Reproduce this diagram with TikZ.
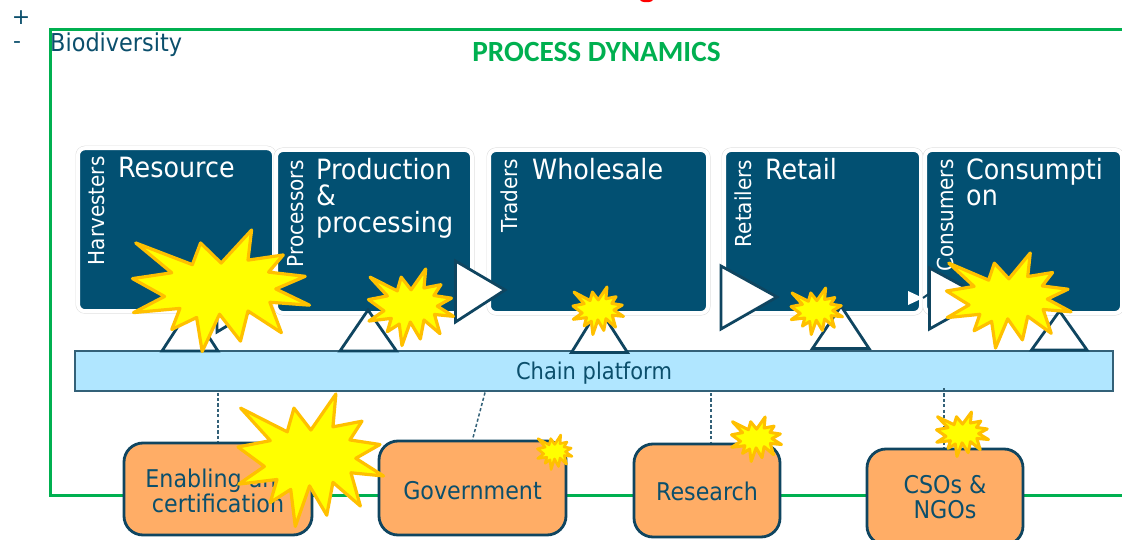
\documentclass[tikz,border=0pt]{standalone}
\usepackage{graphicx}
\usepackage{fontspec}
\setmainfont{DejaVu Sans}
\newfontfamily\calib{Carlito}
\definecolor{boxteal}{HTML}{025072}
\definecolor{inkteal}{HTML}{0B4F6C}
\definecolor{edgeteal}{HTML}{0F4560}
\definecolor{platblue}{HTML}{B0E6FF}
\definecolor{orangebox}{HTML}{FFAD66}
\definecolor{framegreen}{HTML}{00B050}
\definecolor{burstedge}{HTML}{FFC000}
\definecolor{burstfill}{HTML}{FFFF00}
\newcommand\vs[1]{\scalebox{1}[1.1]{#1}}
\tikzset{
  stagebox/.style={preaction={draw=black!13,line width=5pt},fill=boxteal,draw=white,line width=4pt,rounded corners=7pt,inner sep=0pt},
  stagetitle/.style={anchor=north west,inner sep=0pt,text=white,align=left,font=\fontsize{25.4}{26.5}\selectfont},
  actor/.style={anchor=west,rotate=90,inner sep=0pt,text=white,font=\fontsize{20}{22}\selectfont},
  platform/.style={fill=platblue,draw=edgeteal!85,line width=1.4pt,inner sep=0pt},
  support/.style={fill=orangebox,draw=edgeteal,line width=2.8pt,rounded corners=19pt,inner sep=0pt,text=inkteal,align=center,font=\fontsize{22.2}{25}\selectfont},
  flowtri/.style={fill=white,draw=edgeteal,line width=2.8pt,line join=miter},
  dashlink/.style={draw=edgeteal!85,line width=1.5pt,dash pattern=on 3.2pt off 2.2pt},
  burst/.style={fill=burstfill,draw=burstedge,line join=round},
}
\newcommand\burstat[5]{%
  \begin{scope}[shift={(#1,#2)},xscale={(#3-#1)/541},yscale={(#4-#2)/375},shift={(-32,-25)}]
  \path[burst,line width=#5] (42,65)--(215,132)--(240,65)--(303,127)--(396,25)--(385,118)--(493,102)--(448,155)--(560,168)--(470,207)--(573,257)--(452,248)--(487,342)--(385,275)--(362,368)--(298,285)--(245,400)--(228,295)--(152,332)--(177,267)--(35,280)--(130,230)--(32,175)--(152,157)--cycle;
  \end{scope}}
\begin{document}
\begin{tikzpicture}[x=1pt,y=-1pt]
\useasboundingbox (0,0) rectangle (1122,540);
\fill[white] (0,0) rectangle (1122,540);
% clipped red remainder at the top
\fill[red] (646.5,0) ellipse (6.5pt and 2.2pt);
% frame
\coordinate (ftr) at (1122,30);
\coordinate (ftl) at (50,30);
\coordinate (fbl) at (50,495);
\coordinate (fbr) at (1122,495);
\draw[framegreen,line width=3pt] (ftr) -- (ftl) -- (fbl) -- (fbr);
\node[anchor=center,text=inkteal,font=\fontsize{22}{24}\selectfont] (plus) at (21,18) {+};
\node[anchor=center,text=inkteal,font=\fontsize{22}{24}\selectfont] (minus) at (17,45) {-};
\node[anchor=base west,inner sep=0pt,text=inkteal,font=\fontsize{22.4}{24}\selectfont] (bio) at (50,52) {\vs{Biodiversity}};
\node[anchor=center,inner sep=0pt,text=framegreen,font=\calib\bfseries\fontsize{29.3}{31}\selectfont] (title) at (596.5,52) {PROCESS DYNAMICS};
% stages
\node[stagebox,minimum width=196pt,minimum height=163pt] (s1) at (176,229.7) {};
\node[stagebox,minimum width=196pt,minimum height=163pt] (s2) at (374,231.5) {};
\node[stagebox,minimum width=219pt,minimum height=163pt] (s3) at (598.5,231.5) {};
\node[stagebox,minimum width=197pt,minimum height=163pt] (s4) at (822.5,231.5) {};
\node[stagebox,minimum width=197pt,minimum height=163pt] (s5) at (1023.5,231.5) {};
\node[stagetitle] (t1) at (118,157) {\vs{Resource}};
\node[stagetitle] (t2) at (316,158) {\vs{Production}\\\vs{\&}\\\vs{processing}};
\node[stagetitle] (t3) at (532,158) {\vs{Wholesale}};
\node[stagetitle] (t4) at (765,158) {\vs{Retail}};
\node[stagetitle] (t5) at (966,158) {\vs{Consumpti}\\\vs{on}};
\node[actor] (a1) at (97,265.5) {\vs{Harvesters}};
\node[actor] (a2) at (295.5,267.5) {\vs{Processors}};
\node[actor] (a3) at (509.5,232.5) {\vs{Traders}};
\node[actor] (a4) at (743.5,247.5) {\vs{Retailers}};
\node[actor] (a5) at (945.5,272) {\vs{Consumers}};
% flow triangles
\draw[flowtri] (217,270) -- (270,300) -- (217,332) -- cycle;
\draw[flowtri] (455.5,261) -- (505,290) -- (455.5,322) -- cycle;
\draw[flowtri] (721,266) -- (777,297) -- (721,329) -- cycle;
\draw[edgeteal,line width=2pt] (923,298) -- (930,293);
\path[fill=white] (908,291) -- (923,298) -- (908,305) -- cycle;
\draw[flowtri] (929.5,268) -- (985,298) -- (929.5,329) -- cycle;
% platform and up triangles
\node[platform,minimum width=1038pt,minimum height=40pt,text=inkteal,font=\fontsize{21}{24}\selectfont] (plat) at (594,371) {\rule{0pt}{21.6pt}\vs{Chain platform}};
\draw[flowtri] (162,351) -- (190,308) -- (218,351) -- cycle;
\draw[flowtri] (340,351) -- (368,310) -- (396.5,351) -- cycle;
\draw[flowtri] (571.5,352.5) -- (599,308) -- (627.5,352.5) -- cycle;
\draw[flowtri] (812.5,348.5) -- (841,306) -- (869,348.5) -- cycle;
\draw[flowtri] (1031.5,350) -- (1059.5,311) -- (1087,350) -- cycle;
% support boxes
\node[support,minimum width=188pt,minimum height=92pt] (enab) at (218,489) {\rule{0pt}{21.5pt}\vs{Enabling and}\\\vs{certification}};
\node[support,minimum width=187pt,minimum height=94pt] (gov) at (472.5,488) {\rule{0pt}{22.5pt}\vs{Government}};
\node[support,minimum width=146pt,minimum height=93pt] (res) at (707,490.5) {\rule{0pt}{20.5pt}\vs{Research}};
\node[support,minimum width=156pt,minimum height=96pt] (cso) at (945,497) {\vs{CSOs \&}\\\vs{NGOs}};
% dashed links
\coordinate (d1) at (218,392.5);
\coordinate (d2) at (485,392.5);
\coordinate (d3) at (711,393);
\coordinate (d4) at (944,388);
\draw[dashlink] (d1) -- (d1 |- enab.north);
\draw[dashlink] (d2) -- (gov.north);
\draw[dashlink] (d3) -- (d3 |- res.north);
\draw[dashlink] (d4) -- (d4 |- cso.north);
% bursts
\burstat{132.5}{230}{309.5}{351.5}{3.2pt}
\burstat{368.5}{269}{453.5}{345.5}{3.2pt}
\burstat{573}{287}{623.5}{334.5}{3pt}
\burstat{791}{288}{842.5}{334.5}{3pt}
\burstat{946.5}{253}{1071}{348}{3.2pt}
\burstat{238}{394}{383.5}{526.5}{3.2pt}
\burstat{537.5}{435}{572}{469.5}{2.6pt}
\burstat{731.5}{417}{781.5}{461.5}{3pt}
\burstat{936.5}{412}{988.5}{456.5}{3pt}
\end{tikzpicture}
\end{document}
